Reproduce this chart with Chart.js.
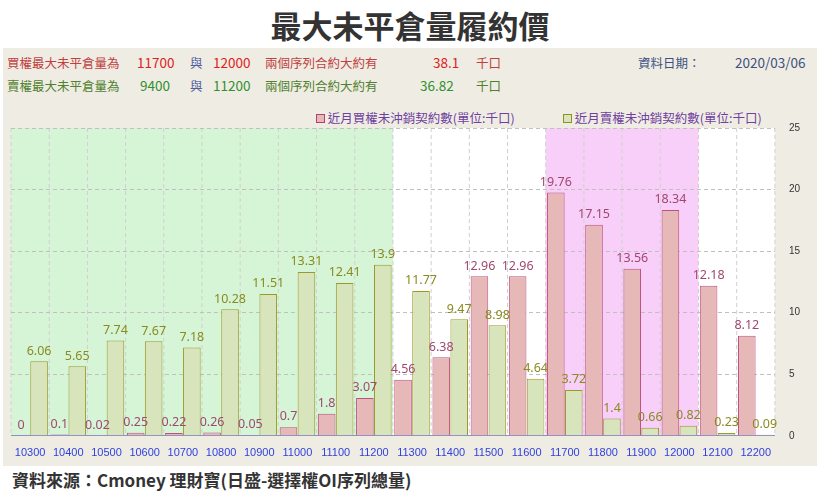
<!DOCTYPE html>
<html><head><meta charset="utf-8">
<script src="https://cdn.jsdelivr.net/npm/chart.js@4.4.1/dist/chart.umd.min.js"></script>
<style>
body{margin:0;width:820px;height:495px;background:#fff;font-family:"Noto Sans CJK TC","Noto Sans",sans-serif;position:relative;overflow:hidden}
#title{position:absolute;top:2px;width:820px;text-align:center;font-size:31px;font-weight:bold;color:#333}
#panel{position:absolute;left:3px;top:48px;width:814px;height:418px;background:#efede3}
.r{position:absolute;font-size:12.5px;white-space:nowrap}
#src{position:absolute;left:12px;top:467px;font-size:17px;font-weight:bold;color:#333}
#wrap{position:absolute;left:0;top:102px;width:820px;height:361px}
</style></head><body>
<div id="title">最大未平倉量履約價</div>
<div id="panel"></div>
<div class="r" style="left:7px;top:53px;color:#c04040">買權最大未平倉量為</div>
<div class="r" style="left:137px;top:52px;color:#e02020;font-size:13.5px">11700</div>
<div class="r" style="left:190px;top:53px;color:#5060a0">與</div>
<div class="r" style="left:213px;top:52px;color:#e02020;font-size:13.5px">12000</div>
<div class="r" style="left:265px;top:53px;color:#c04040">兩個序列合約大約有</div>
<div class="r" style="left:433px;top:52px;color:#e02020;font-size:13.5px">38.1</div>
<div class="r" style="left:476px;top:53px;color:#c04040">千口</div>
<div class="r" style="left:7px;top:76px;color:#508030">賣權最大未平倉量為</div>
<div class="r" style="left:140px;top:75px;color:#309030;font-size:13.5px">9400</div>
<div class="r" style="left:190px;top:76px;color:#5060a0">與</div>
<div class="r" style="left:213px;top:75px;color:#309030;font-size:13.5px">11200</div>
<div class="r" style="left:265px;top:76px;color:#508030">兩個序列合約大約有</div>
<div class="r" style="left:420px;top:75px;color:#309030;font-size:13.5px">36.82</div>
<div class="r" style="left:476px;top:76px;color:#508030">千口</div>
<div class="r" style="left:638px;top:53px;color:#405080">資料日期：</div>
<div class="r" style="left:735px;top:52px;color:#405080;font-size:13.5px">2020/03/06</div>
<div class="r" style="left:316px;top:108px;color:#7040a0"><span style="display:inline-block;width:7px;height:7px;border:1px solid #b04070;background:#e6b8b8"></span> 近月買權未沖銷契約數(單位:千口)</div>
<div class="r" style="left:563px;top:108px;color:#7040a0"><span style="display:inline-block;width:7px;height:7px;border:1px solid #909020;background:#d8e4bc"></span> 近月賣權未沖銷契約數(單位:千口)</div>
<div id="wrap"><canvas id="c"></canvas></div>
<div id="src">資料來源：Cmoney 理財寶(日盛-選擇權OI序列總量)</div>
<script>
const strikes = ['10300','10400','10500','10600','10700','10800','10900','11000','11100','11200','11300','11400','11500','11600','11700','11800','11900','12000','12100','12200'];
const calls = [0,0.1,0.02,0.25,0.22,0.26,0.05,0.7,1.8,3.07,4.56,6.38,12.96,12.96,19.76,17.15,13.56,18.34,12.18,8.12];
const puts = [6.06,5.65,7.74,7.67,7.18,10.28,11.51,13.31,12.41,13.9,11.77,9.47,8.98,4.64,3.72,1.4,0.66,0.82,0.23,0.09];
const yTicks = [0,5,10,15,20,25];
const bands = [[0,9,'#d6f5d6'],[10,13,'#ffffff'],[14,17,'#f8cff8'],[18,19,'#ffffff']];

const bgPlugin = {
  id:'bg',
  beforeDraw(ch){
    const {ctx,chartArea:a,scales:{x}} = ch;
    const w = (x.getPixelForValue(1)-x.getPixelForValue(0));
    bands.forEach(([s,e,c])=>{
      ctx.fillStyle=c;
      const l=x.getPixelForValue(s)-w/2, r=x.getPixelForValue(e)+w/2;
      ctx.fillRect(l,a.top,r-l,a.bottom-a.top);
    });
    ctx.save();ctx.strokeStyle='#d0d0d0';ctx.setLineDash([4,3]);
    for(let i=0;i<=strikes.length;i++){
      const px=x.getPixelForValue(0)-w/2+i*w;
      ctx.beginPath();ctx.moveTo(px,a.top);ctx.lineTo(px,a.bottom);ctx.stroke();
    }
    ctx.restore();
  }
};
const labelPlugin = {
  id:'lbl',
  afterDatasetsDraw(ch){
    const ctx=ch.ctx;
    ctx.font='12.5px "Noto Sans","DejaVu Sans",sans-serif';ctx.textAlign='center';ctx.textBaseline='bottom';
    ch.data.datasets.forEach((ds,di)=>{
      ctx.fillStyle = di===0?'#a04870':'#8a8a20';
      ch.getDatasetMeta(di).data.forEach((b,i)=>{
        ctx.fillText(String(ds.data[i]), b.x, b.y-4);
      });
    });
  }
};
new Chart(document.getElementById('c'),{
  type:'bar',
  data:{labels:strikes,datasets:[
    {data:calls,backgroundColor:'#e6b8b8',borderColor:'#c05080',borderWidth:1,categoryPercentage:0.94,barPercentage:0.98},
    {data:puts,backgroundColor:'#d8e4bc',borderColor:'#9a9a28',borderWidth:1,categoryPercentage:0.94,barPercentage:0.98}
  ]},
  options:{
    responsive:true,maintainAspectRatio:false,animation:false,
    layout:{padding:{left:11,right:6,top:26,bottom:0}},
    plugins:{legend:{display:false},tooltip:{enabled:false}},
    scales:{
      x:{grid:{display:false},border:{color:'#9090c0'},ticks:{color:'#3040e0',font:{size:11},maxRotation:0,autoSkip:false}},
      y:{position:'right',min:0,max:25,afterBuildTicks(s){s.ticks=yTicks.map(v=>({value:v}));},
         grid:{color:'#c0c0c0',drawTicks:false},border:{display:false,dash:[4,3]},
         ticks:{color:'#333',font:{size:10},padding:14}}
    }
  },
  plugins:[bgPlugin,labelPlugin]
});
</script>
</body></html>
